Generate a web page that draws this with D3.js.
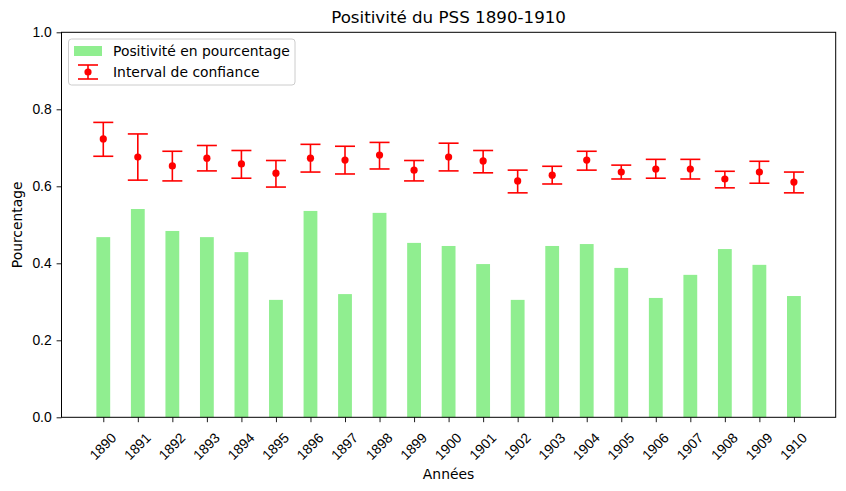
<!DOCTYPE html>
<html>
<head>
<meta charset="utf-8">
<script src="https://cdn.jsdelivr.net/npm/d3@7"></script>
<style>
  body { margin: 0; background: #fff; }
  svg { display: block; font-family: "DejaVu Sans", sans-serif; }
</style>
</head>
<body>
<svg id="chart" width="846" height="491"></svg>
<script>
const years = ["1890","1891","1892","1893","1894","1895","1896","1897","1898","1899","1900","1901","1902","1903","1904","1905","1906","1907","1908","1909","1910"];
const positivity = [0.468,0.541,0.484,0.468,0.429,0.305,0.536,0.320,0.531,0.453,0.445,0.398,0.305,0.445,0.450,0.388,0.310,0.370,0.437,0.396,0.315];
const ciCenter = [0.723,0.676,0.653,0.673,0.658,0.634,0.673,0.668,0.681,0.642,0.676,0.666,0.614,0.629,0.668,0.637,0.645,0.645,0.619,0.637,0.611];
const ciLow = [0.678,0.616,0.614,0.640,0.621,0.598,0.637,0.632,0.645,0.614,0.640,0.635,0.583,0.606,0.642,0.619,0.621,0.619,0.596,0.608,0.583];
const ciHigh = [0.766,0.736,0.691,0.706,0.693,0.667,0.709,0.704,0.714,0.667,0.712,0.693,0.642,0.652,0.691,0.655,0.670,0.670,0.639,0.665,0.637];
const yTicks = [0, 0.2, 0.4, 0.6, 0.8, 1.0];

const svg = d3.select("#chart");
const L = 61.5, R = 835.7, T = 32.3, B = 417.3;
const x = d3.scaleLinear().domain([-1.21, years.length - 1 + 1.21]).range([L, R]);
const y = d3.scaleLinear().domain([0, 1]).range([B, T]);
const step = x(1) - x(0);
const barW = 0.4 * step;
const fs = "13.9px";

// bars
svg.append("g").selectAll("rect").data(positivity).join("rect")
  .attr("x", (d, i) => x(i) - barW / 2)
  .attr("y", d => y(d))
  .attr("width", barW)
  .attr("height", d => y(0) - y(d))
  .attr("fill", "#90ee90");

// error bars
const eb = svg.append("g");
const cap = 10;
years.forEach((yr, i) => {
  const cx = x(i);
  eb.append("line").attr("x1", cx).attr("x2", cx).attr("y1", y(ciLow[i])).attr("y2", y(ciHigh[i]))
    .attr("stroke", "red").attr("stroke-width", 1.6);
  eb.append("line").attr("x1", cx - cap).attr("x2", cx + cap).attr("y1", y(ciLow[i])).attr("y2", y(ciLow[i]))
    .attr("stroke", "red").attr("stroke-width", 1.6);
  eb.append("line").attr("x1", cx - cap).attr("x2", cx + cap).attr("y1", y(ciHigh[i])).attr("y2", y(ciHigh[i]))
    .attr("stroke", "red").attr("stroke-width", 1.6);
  eb.append("circle").attr("cx", cx).attr("cy", y(ciCenter[i])).attr("r", 3.6).attr("fill", "red");
});

// axes
const xAxis = d3.axisBottom(x).tickValues(d3.range(years.length)).tickFormat(i => years[i]).tickSizeOuter(0).tickSize(4.9).tickPadding(4.9);
const gx = svg.append("g").attr("transform", `translate(0,${B})`).call(xAxis);
gx.select(".domain").remove();
gx.selectAll("text").remove();
gx.selectAll(".tick").append("text")
  .attr("transform", "translate(-1,29) rotate(-45)")
  .attr("text-anchor", "middle")
  .attr("dominant-baseline", "central")
  .attr("fill", "#000")
  .style("font-size", fs)
  .text(i => years[i]);

const yAxis = d3.axisLeft(y).tickValues(yTicks).tickFormat(d3.format(".1f")).tickSizeOuter(0).tickSize(4.9).tickPadding(4.9);
const gy = svg.append("g").attr("transform", `translate(${L},0)`).call(yAxis);
gy.select(".domain").remove();
gy.selectAll("text").style("font-size", fs).attr("fill", "#000");
svg.selectAll(".tick line").attr("stroke", "#000").attr("stroke-width", 0.9);

// frame
svg.append("rect").attr("x", L).attr("y", T).attr("width", R - L).attr("height", B - T)
  .attr("fill", "none").attr("stroke", "#000").attr("stroke-width", 1);

// title & labels
svg.append("text").attr("x", (L + R) / 2).attr("y", 23).attr("text-anchor", "middle")
  .style("font-size", "16.7px").text("Positivité du PSS 1890-1910");
svg.append("text").attr("x", (L + R) / 2).attr("y", 479).attr("text-anchor", "middle")
  .style("font-size", fs).text("Années");
svg.append("text").attr("transform", `translate(22,${(T + B) / 2}) rotate(-90)`).attr("text-anchor", "middle")
  .style("font-size", fs).text("Pourcentage");

// legend
const lg = svg.append("g");
lg.append("rect").attr("x", 68.5).attr("y", 39).attr("width", 226.5).attr("height", 46).attr("rx", 3)
  .attr("fill", "#fff").attr("fill-opacity", 0.8).attr("stroke", "#ccc").attr("stroke-width", 1);
lg.append("rect").attr("x", 74).attr("y", 46).attr("width", 28).attr("height", 10).attr("fill", "#90ee90");
lg.append("text").attr("x", 113).attr("y", 51).attr("dominant-baseline", "central").style("font-size", fs).text("Positivité en pourcentage");
lg.append("line").attr("x1", 88).attr("x2", 88).attr("y1", 65).attr("y2", 79).attr("stroke", "red").attr("stroke-width", 1.6);
lg.append("line").attr("x1", 78).attr("x2", 98).attr("y1", 65).attr("y2", 65).attr("stroke", "red").attr("stroke-width", 1.6);
lg.append("line").attr("x1", 78).attr("x2", 98).attr("y1", 79).attr("y2", 79).attr("stroke", "red").attr("stroke-width", 1.6);
lg.append("circle").attr("cx", 88).attr("cy", 72).attr("r", 3.6).attr("fill", "red");
lg.append("text").attr("x", 113).attr("y", 72).attr("dominant-baseline", "central").style("font-size", fs).text("Interval de confiance");
</script>
</body>
</html>
